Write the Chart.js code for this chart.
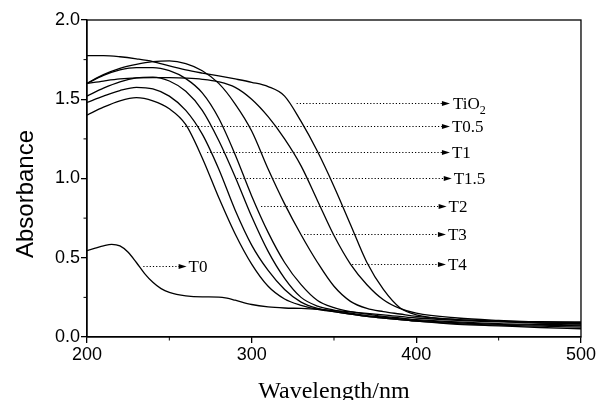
<!DOCTYPE html>
<html>
<head>
<meta charset="utf-8">
<script src="https://cdn.jsdelivr.net/npm/chart.js@4.4.1/dist/chart.umd.min.js"></script>
<style>
  html, body { margin: 0; padding: 0; background: #ffffff; }
  canvas { display: block; }
</style>
</head>
<body>
<canvas id="c" width="597" height="400"></canvas>
<script>
// ---- data ----
const wavelengths = [200,210,220,230,240,250,260,270,280,290,300,310,320,330,340,350,360,370,380,390,400,425,450,475,500];

const absTiO2 = [1.775,1.775,1.768,1.755,1.738,1.71,1.685,1.665,1.647,1.628,1.607,1.58,1.52,1.36,1.17,0.95,0.71,0.47,0.30,0.185,0.14,0.11,0.10,0.097,0.095];
const absT4   = [1.60,1.615,1.628,1.635,1.637,1.636,1.633,1.626,1.61,1.575,1.50,1.39,1.25,1.08,0.86,0.64,0.46,0.33,0.235,0.18,0.15,0.12,0.105,0.095,0.09];
const absT3   = [1.60,1.655,1.695,1.72,1.737,1.742,1.725,1.68,1.60,1.47,1.30,1.06,0.84,0.645,0.47,0.32,0.225,0.18,0.16,0.145,0.13,0.11,0.10,0.09,0.085];
const absT2   = [1.60,1.65,1.685,1.70,1.70,1.68,1.63,1.54,1.38,1.15,0.89,0.66,0.47,0.33,0.23,0.185,0.16,0.145,0.13,0.12,0.11,0.095,0.085,0.08,0.075];
const absT15  = [1.52,1.57,1.61,1.635,1.64,1.615,1.55,1.43,1.24,1.01,0.76,0.54,0.37,0.25,0.195,0.17,0.15,0.135,0.125,0.115,0.105,0.09,0.08,0.075,0.07];
const absT1   = [1.48,1.52,1.555,1.575,1.565,1.52,1.43,1.28,1.06,0.80,0.58,0.42,0.30,0.22,0.18,0.16,0.145,0.13,0.12,0.11,0.10,0.085,0.075,0.068,0.062];
const absT05  = [1.40,1.45,1.49,1.51,1.49,1.44,1.34,1.13,0.88,0.65,0.46,0.32,0.24,0.20,0.175,0.16,0.145,0.13,0.12,0.11,0.10,0.08,0.07,0.06,0.052];

const wavelengthsT0 = [200,205,210,215,220,225,230,235,240,245,250,260,270,280,285,290,300,310,320,330,340,350,360,380,400,425,450,475,500];
const absT0 = [0.545,0.56,0.575,0.585,0.575,0.535,0.47,0.40,0.345,0.305,0.282,0.26,0.253,0.252,0.245,0.232,0.205,0.19,0.183,0.18,0.175,0.167,0.158,0.14,0.12,0.105,0.095,0.088,0.082];

const seriesNames = ['TiO2','T0.5','T1','T1.5','T2','T3','T4','T0'];

// tick values
const xTicks = [200, 300, 400, 500];
const yTicks = [0.0, 0.5, 1.0, 1.5, 2.0];

// labelled arrows: [label, y value, start wavelength, end wavelength]
const arrowLabels = ['TiO2','T0.5','T1','T1.5','T2','T3','T4','T0'];
const arrowY      = [1.478, 1.331, 1.169, 1.005, 0.828, 0.650, 0.461, 0.450];
const arrowFrom   = [327.3, 257.7, 272.9, 291.1, 305.7, 331.8, 361.0, 234.2];
const arrowTo     = [420.4, 420.4, 420.4, 421.5, 418.4, 418.0, 418.0, 260.5];

// ---- build chart ----
function pts(xs, ys) { return xs.map((x, i) => ({ x: x, y: ys[i] })); }

const mainSeries = [absTiO2, absT05, absT1, absT15, absT2, absT3, absT4];
const datasets = mainSeries.map((ys, i) => ({
  label: seriesNames[i],
  data: pts(wavelengths, ys)
}));
datasets.push({ label: seriesNames[7], data: pts(wavelengthsT0, absT0) });
datasets.forEach(d => {
  d.borderColor = '#000';
  d.borderWidth = 1.3;
  d.pointRadius = 0;
  d.fill = false;
  d.cubicInterpolationMode = 'monotone';
});

const SANS = '"Liberation Sans", Arial, sans-serif';
const SERIF = '"Liberation Serif", "Times New Roman", serif';

const decor = {
  id: 'decor',
  afterDraw(chart) {
    const ctx = chart.ctx;
    const a = chart.chartArea;
    const xs = chart.scales.x, ys = chart.scales.y;
    ctx.save();
    // frame
    ctx.strokeStyle = '#000';
    ctx.lineWidth = 1.3;
    ctx.strokeRect(a.left, a.top, a.right - a.left, a.bottom - a.top);
    // minor ticks (midpoints between major ticks)
    ctx.lineWidth = 1;
    for (let i = 0; i < xTicks.length - 1; i++) {
      const px = xs.getPixelForValue((xTicks[i] + xTicks[i + 1]) / 2);
      ctx.beginPath(); ctx.moveTo(px, a.bottom); ctx.lineTo(px, a.bottom + 3.5); ctx.stroke();
    }
    for (let i = 0; i < yTicks.length - 1; i++) {
      const py = ys.getPixelForValue((yTicks[i] + yTicks[i + 1]) / 2);
      ctx.beginPath(); ctx.moveTo(a.left, py); ctx.lineTo(a.left - 3.5, py); ctx.stroke();
    }
    // arrows + labels
    for (let i = 0; i < arrowLabels.length; i++) {
      const y = Math.round(ys.getPixelForValue(arrowY[i])) + 0.5;
      const x0 = xs.getPixelForValue(arrowFrom[i]);
      const x1 = xs.getPixelForValue(arrowTo[i]);
      ctx.setLineDash([1.2, 2]);
      ctx.lineWidth = 1;
      ctx.beginPath(); ctx.moveTo(x0, y); ctx.lineTo(x1 - 6, y); ctx.stroke();
      ctx.setLineDash([]);
      ctx.fillStyle = '#000';
      ctx.beginPath();
      ctx.moveTo(x1, y); ctx.lineTo(x1 - 8, y - 2.5); ctx.lineTo(x1 - 8, y + 2.5); ctx.closePath(); ctx.fill();
      ctx.font = '17px ' + SERIF;
      ctx.textBaseline = 'middle';
      ctx.textAlign = 'left';
      const lab = arrowLabels[i];
      if (lab === 'TiO2') {
        ctx.fillText('TiO', x1 + 3, y + 1);
        const w = ctx.measureText('TiO').width;
        ctx.font = '12px ' + SERIF;
        ctx.fillText('2', x1 + 3 + w, y + 7);
      } else {
        ctx.fillText(lab, x1 + 2, y + 1);
      }
    }
    // axis titles
    ctx.fillStyle = '#000';
    ctx.font = '24px ' + SERIF;
    ctx.textAlign = 'center';
    ctx.textBaseline = 'alphabetic';
    ctx.fillText('Wavelength/nm', (a.left + a.right) / 2, 398);
    ctx.save();
    ctx.translate(33, 194);
    ctx.rotate(-Math.PI / 2);
    ctx.font = '24px ' + SANS;
    ctx.fillText('Absorbance', 0, 0);
    ctx.restore();
    ctx.restore();
  }
};

new Chart(document.getElementById('c'), {
  type: 'line',
  data: { datasets: datasets },
  options: {
    responsive: false,
    animation: false,
    devicePixelRatio: 1,
    layout: { padding: { top: 20, right: 16, left: 0, bottom: 0 } },
    plugins: { legend: { display: false }, tooltip: { enabled: false } },
    scales: {
      x: {
        type: 'linear', min: 200, max: 500,
        afterBuildTicks: s => { s.ticks = xTicks.map(v => ({ value: v })); },
        ticks: { color: '#000', font: { family: SANS, size: 18 }, padding: 1, maxRotation: 0,
                 callback: v => String(v) },
        grid: { drawOnChartArea: false, tickLength: 6, color: '#000', lineWidth: 1.3 },
        border: { display: true, color: '#000', width: 1.3 },
        afterFit: s => { s.height = 63; }
      },
      y: {
        type: 'linear', min: 0, max: 2,
        afterBuildTicks: s => { s.ticks = yTicks.map(v => ({ value: v })); },
        ticks: { color: '#000', font: { family: SANS, size: 18 }, padding: 1,
                 callback: v => Number(v).toFixed(1) },
        grid: { drawOnChartArea: false, tickLength: 6, color: '#000', lineWidth: 1.3 },
        border: { display: true, color: '#000', width: 1.3 },
        afterFit: s => { s.width = 87; }
      }
    }
  },
  plugins: [decor]
});
</script>
</body>
</html>
